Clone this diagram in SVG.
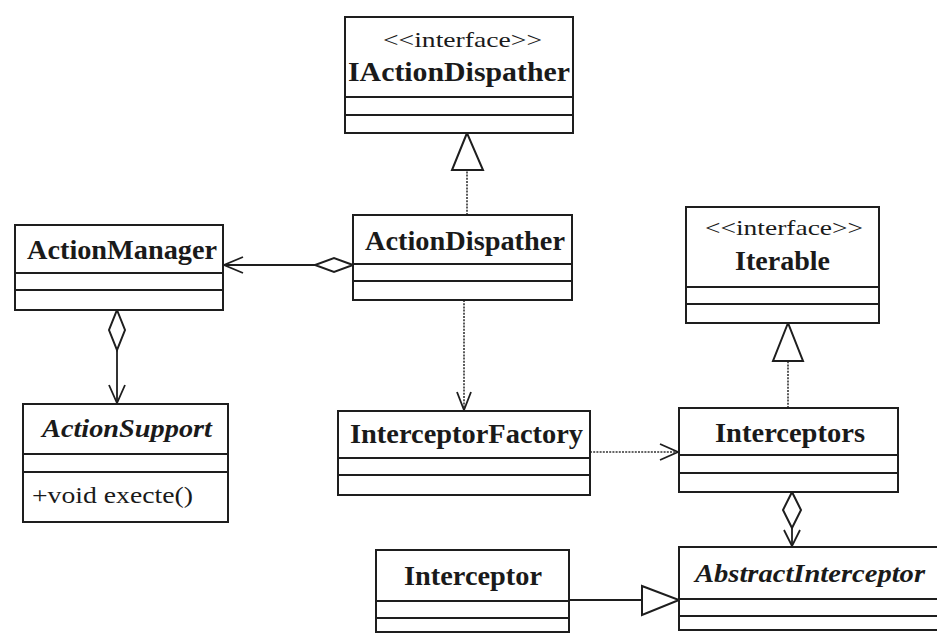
<svg xmlns="http://www.w3.org/2000/svg" width="937" height="633" viewBox="0 0 937 633">
  <defs>
    <style>
      .box { fill: #ffffff; stroke: #1e1e1e; stroke-width: 2; }
      .sep { stroke: #1e1e1e; stroke-width: 2; fill: none; }
      .name { font-family: "Liberation Serif", "Times New Roman", serif; font-weight: bold; font-size: 27px; fill: #1a1a1a; }
      .iname { font-family: "Liberation Serif", "Times New Roman", serif; font-weight: bold; font-style: italic; font-size: 26px; fill: #1a1a1a; }
      .stereo { font-family: "Liberation Serif", "Times New Roman", serif; font-size: 22px; fill: #1a1a1a; }
      .member { font-family: "Liberation Serif", "Times New Roman", serif; font-size: 23px; fill: #1a1a1a; }
      .solid { stroke: #1e1e1e; stroke-width: 1.8; fill: none; }
      .dotted { stroke: #333333; stroke-width: 1.6; fill: none; stroke-dasharray: 2 1.2; }
      .hollow { stroke: #1e1e1e; stroke-width: 2; fill: #ffffff; stroke-linejoin: miter; }
      .open { stroke: #1e1e1e; stroke-width: 1.8; fill: none; }
    </style>
  </defs>
  <rect width="937" height="633" fill="#ffffff"/>

  <g id="connectors">
    <!-- ActionDispather realizes IActionDispather -->
    <line class="dotted" x1="467" y1="215" x2="467" y2="170"/>
    <polygon class="hollow" points="467,133 452,170 483,170"/>
    <!-- ActionDispather aggregates ActionManager -->
    <line class="solid" x1="224" y1="265" x2="315" y2="265"/>
    <polygon class="hollow" points="353,265 334,258 315,265 334,272"/>
    <polyline class="open" points="243,257 224,265 243,273"/>
    <!-- ActionManager aggregates ActionSupport -->
    <polygon class="hollow" points="117,310 125,330 117,350 109,330"/>
    <line class="solid" x1="117" y1="350" x2="117" y2="403"/>
    <polyline class="open" points="109,385 117,403 125,385"/>
    <!-- ActionDispather depends on InterceptorFactory -->
    <line class="dotted" x1="464" y1="300" x2="464" y2="410"/>
    <polyline class="open" points="457,392 464,410 471,392"/>
    <!-- InterceptorFactory depends on Interceptors -->
    <line class="dotted" x1="590" y1="452" x2="678" y2="452"/>
    <polyline class="open" points="660,444 678,452 660,460"/>
    <!-- Interceptors realizes Iterable -->
    <line class="dotted" x1="788" y1="408" x2="788" y2="361"/>
    <polygon class="hollow" points="788,323 773,361 803,361"/>
    <!-- Interceptors aggregates AbstractInterceptor -->
    <polygon class="hollow" points="792,492 801,510 792,528 783,510"/>
    <line class="solid" x1="792" y1="528" x2="792" y2="546"/>
    <polyline class="open" points="784,530 792,546 800,530"/>
    <!-- Interceptor extends AbstractInterceptor -->
    <line class="solid" x1="569" y1="600" x2="642" y2="600"/>
    <polygon class="hollow" points="642,586 679,600 642,615"/>
  </g>

  <g id="IActionDispather">
    <rect class="box" x="345" y="17" width="228" height="116"/>
    <line class="sep" x1="345" y1="97" x2="573" y2="97"/>
    <line class="sep" x1="345" y1="115" x2="573" y2="115"/>
    <text class="stereo" x="383" y="47" textLength="159" lengthAdjust="spacingAndGlyphs">&lt;&lt;interface&gt;&gt;</text>
    <text class="name" x="348" y="81" textLength="222" lengthAdjust="spacingAndGlyphs">IActionDispather</text>
  </g>

  <g id="ActionManager">
    <rect class="box" x="15" y="225" width="208" height="85"/>
    <line class="sep" x1="15" y1="273" x2="223" y2="273"/>
    <line class="sep" x1="15" y1="290" x2="223" y2="290"/>
    <text class="name" x="27" y="259" textLength="190" lengthAdjust="spacingAndGlyphs">ActionManager</text>
  </g>

  <g id="ActionDispather">
    <rect class="box" x="353" y="215" width="219" height="85"/>
    <line class="sep" x1="353" y1="264" x2="572" y2="264"/>
    <line class="sep" x1="353" y1="281" x2="572" y2="281"/>
    <text class="name" x="365" y="250" textLength="200" lengthAdjust="spacingAndGlyphs">ActionDispather</text>
  </g>

  <g id="ActionSupport">
    <rect class="box" x="23" y="404" width="205" height="118"/>
    <line class="sep" x1="23" y1="454" x2="228" y2="454"/>
    <line class="sep" x1="23" y1="472" x2="228" y2="472"/>
    <text class="iname" x="42" y="437" textLength="170" lengthAdjust="spacingAndGlyphs">ActionSupport</text>
    <text class="member" x="32" y="503" textLength="161" lengthAdjust="spacingAndGlyphs">+void execte()</text>
  </g>

  <g id="InterceptorFactory">
    <rect class="box" x="338" y="411" width="252" height="84"/>
    <line class="sep" x1="338" y1="458" x2="590" y2="458"/>
    <line class="sep" x1="338" y1="475" x2="590" y2="475"/>
    <text class="name" x="350" y="443" textLength="233" lengthAdjust="spacingAndGlyphs">InterceptorFactory</text>
  </g>

  <g id="Iterable">
    <rect class="box" x="686" y="207" width="193" height="116"/>
    <line class="sep" x1="686" y1="287" x2="879" y2="287"/>
    <line class="sep" x1="686" y1="304" x2="879" y2="304"/>
    <text class="stereo" x="705" y="235" textLength="158" lengthAdjust="spacingAndGlyphs">&lt;&lt;interface&gt;&gt;</text>
    <text class="name" x="735" y="270" textLength="95" lengthAdjust="spacingAndGlyphs">Iterable</text>
  </g>

  <g id="Interceptors">
    <rect class="box" x="679" y="408" width="219" height="84"/>
    <line class="sep" x1="679" y1="455" x2="898" y2="455"/>
    <line class="sep" x1="679" y1="473" x2="898" y2="473"/>
    <text class="name" x="715" y="442" textLength="150" lengthAdjust="spacingAndGlyphs">Interceptors</text>
  </g>

  <g id="AbstractInterceptor">
    <rect class="box" x="679" y="547" width="270" height="83"/>
    <line class="sep" x1="679" y1="599" x2="949" y2="599"/>
    <line class="sep" x1="679" y1="616" x2="949" y2="616"/>
    <text class="iname" x="695" y="582" textLength="230" lengthAdjust="spacingAndGlyphs">AbstractInterceptor</text>
  </g>

  <g id="Interceptor">
    <rect class="box" x="376" y="550" width="193" height="82"/>
    <line class="sep" x1="376" y1="601" x2="569" y2="601"/>
    <line class="sep" x1="376" y1="618" x2="569" y2="618"/>
    <text class="name" x="404" y="585" textLength="138" lengthAdjust="spacingAndGlyphs">Interceptor</text>
  </g>
</svg>
